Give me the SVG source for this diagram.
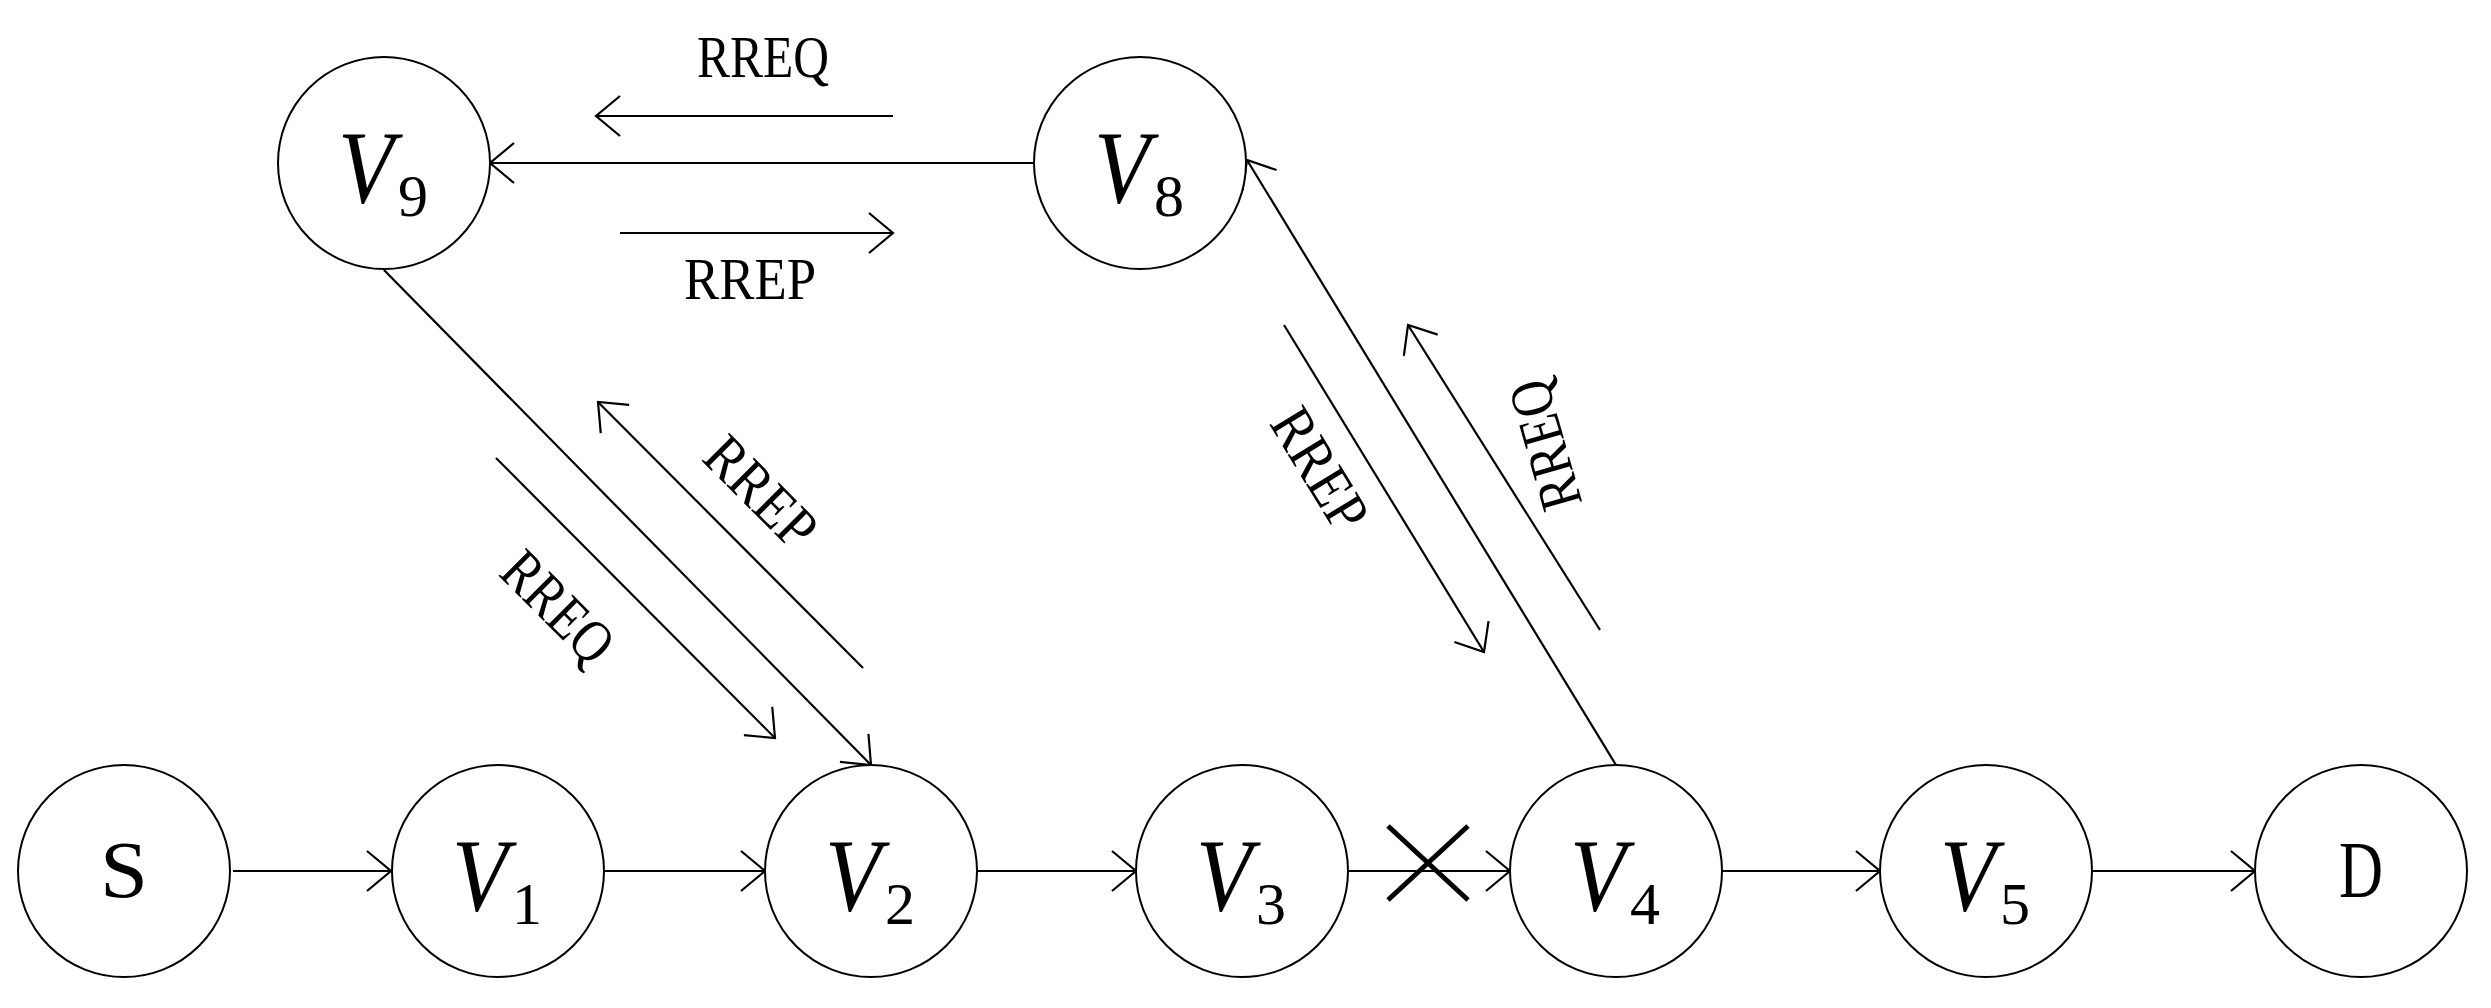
<svg xmlns="http://www.w3.org/2000/svg" width="2491" height="1008" viewBox="0 0 2491 1008">
<style>
.n{fill:#fff;stroke:#000;stroke-width:2}
.l{fill:none;stroke:#000;stroke-width:2.2}
.t{font-family:"Liberation Serif","Times New Roman",serif;fill:#000}
.v{font-size:104px;font-style:italic}
.s{font-size:60px}
.lab{font-size:60px}
</style>
<defs>
<marker id="a" viewBox="-26 -22 28 44" markerWidth="28" markerHeight="44" refX="0" refY="0" orient="auto" markerUnits="userSpaceOnUse">
<path d="M-24,-20 L0,0 L-24,20" fill="none" stroke="#000" stroke-width="2.2"/>
</marker>
</defs>
<rect width="2491" height="1008" fill="#fff"/>
<g id="connectors">
<line class="l" x1="233" y1="871" x2="391" y2="871" marker-end="url(#a)"/>
<line class="l" x1="604" y1="871" x2="765" y2="871" marker-end="url(#a)"/>
<line class="l" x1="977" y1="871" x2="1136" y2="871" marker-end="url(#a)"/>
<line class="l" x1="1348" y1="871" x2="1510" y2="871" marker-end="url(#a)"/>
<line class="l" x1="1722" y1="871" x2="1880" y2="871" marker-end="url(#a)"/>
<line class="l" x1="2092" y1="871" x2="2255" y2="871" marker-end="url(#a)"/>
<line class="l" x1="1035" y1="163" x2="490" y2="163" marker-end="url(#a)"/>
<line class="l" x1="893" y1="116" x2="596" y2="116" marker-end="url(#a)"/>
<line class="l" x1="620" y1="233" x2="893" y2="233" marker-end="url(#a)"/>
<line class="l" x1="384" y1="270" x2="871" y2="765" marker-end="url(#a)"/>
<line class="l" x1="496" y1="458" x2="775" y2="738" marker-end="url(#a)"/>
<line class="l" x1="863" y1="668" x2="598" y2="402" marker-end="url(#a)"/>
<line class="l" x1="1616" y1="765" x2="1247" y2="160" marker-end="url(#a)"/>
<line class="l" x1="1284" y1="325" x2="1484" y2="652" marker-end="url(#a)"/>
<line class="l" x1="1600" y1="630" x2="1408" y2="325" marker-end="url(#a)"/>
<path d="M1388,826 L1468,900 M1468,826 L1388,900" stroke="#000" stroke-width="5" fill="none"/>
<text class="t lab" x="763" y="77" text-anchor="middle" textLength="132" lengthAdjust="spacingAndGlyphs">RREQ</text>
<text class="t lab" x="750" y="299" text-anchor="middle" textLength="132" lengthAdjust="spacingAndGlyphs">RREP</text>
<text class="t lab" transform="translate(558,607) rotate(45)" x="0" y="20" text-anchor="middle" textLength="132" lengthAdjust="spacingAndGlyphs">RREQ</text>
<text class="t lab" transform="translate(761,492) rotate(45)" x="0" y="20" text-anchor="middle" textLength="132" lengthAdjust="spacingAndGlyphs">RREP</text>
<text class="t lab" transform="translate(1320,469) rotate(58.5)" x="0" y="20" text-anchor="middle" textLength="132" lengthAdjust="spacingAndGlyphs">RREP</text>
<text class="t lab" transform="translate(1545,445) rotate(-106)" x="0" y="20" text-anchor="middle" textLength="132" lengthAdjust="spacingAndGlyphs">RREQ</text>
</g>
<g id="S"><circle class="n" cx="124" cy="871" r="106"/><text class="t" x="124" y="897" font-size="80" text-anchor="middle" textLength="48" lengthAdjust="spacingAndGlyphs">S</text></g>
<g id="V1"><circle class="n" cx="498" cy="871" r="106"/><text class="t v" x="452" y="910" textLength="56" lengthAdjust="spacingAndGlyphs">V</text><text class="t s" x="512" y="924">1</text></g>
<g id="V2"><circle class="n" cx="871" cy="871" r="106"/><text class="t v" x="825" y="910" textLength="56" lengthAdjust="spacingAndGlyphs">V</text><text class="t s" x="885" y="924">2</text></g>
<g id="V3"><circle class="n" cx="1242" cy="871" r="106"/><text class="t v" x="1196" y="910" textLength="56" lengthAdjust="spacingAndGlyphs">V</text><text class="t s" x="1256" y="924">3</text></g>
<g id="V4"><circle class="n" cx="1616" cy="871" r="106"/><text class="t v" x="1570" y="910" textLength="56" lengthAdjust="spacingAndGlyphs">V</text><text class="t s" x="1630" y="924">4</text></g>
<g id="V5"><circle class="n" cx="1986" cy="871" r="106"/><text class="t v" x="1940" y="910" textLength="56" lengthAdjust="spacingAndGlyphs">V</text><text class="t s" x="2000" y="924">5</text></g>
<g id="D"><circle class="n" cx="2361" cy="871" r="106"/><text class="t" x="2361" y="897" font-size="80" text-anchor="middle" textLength="44" lengthAdjust="spacingAndGlyphs">D</text></g>
<g id="V9"><circle class="n" cx="384" cy="163" r="106"/><text class="t v" x="338" y="202" textLength="56" lengthAdjust="spacingAndGlyphs">V</text><text class="t s" x="398" y="216">9</text></g>
<g id="V8"><circle class="n" cx="1140" cy="163" r="106"/><text class="t v" x="1094" y="202" textLength="56" lengthAdjust="spacingAndGlyphs">V</text><text class="t s" x="1154" y="216">8</text></g>
</svg>
